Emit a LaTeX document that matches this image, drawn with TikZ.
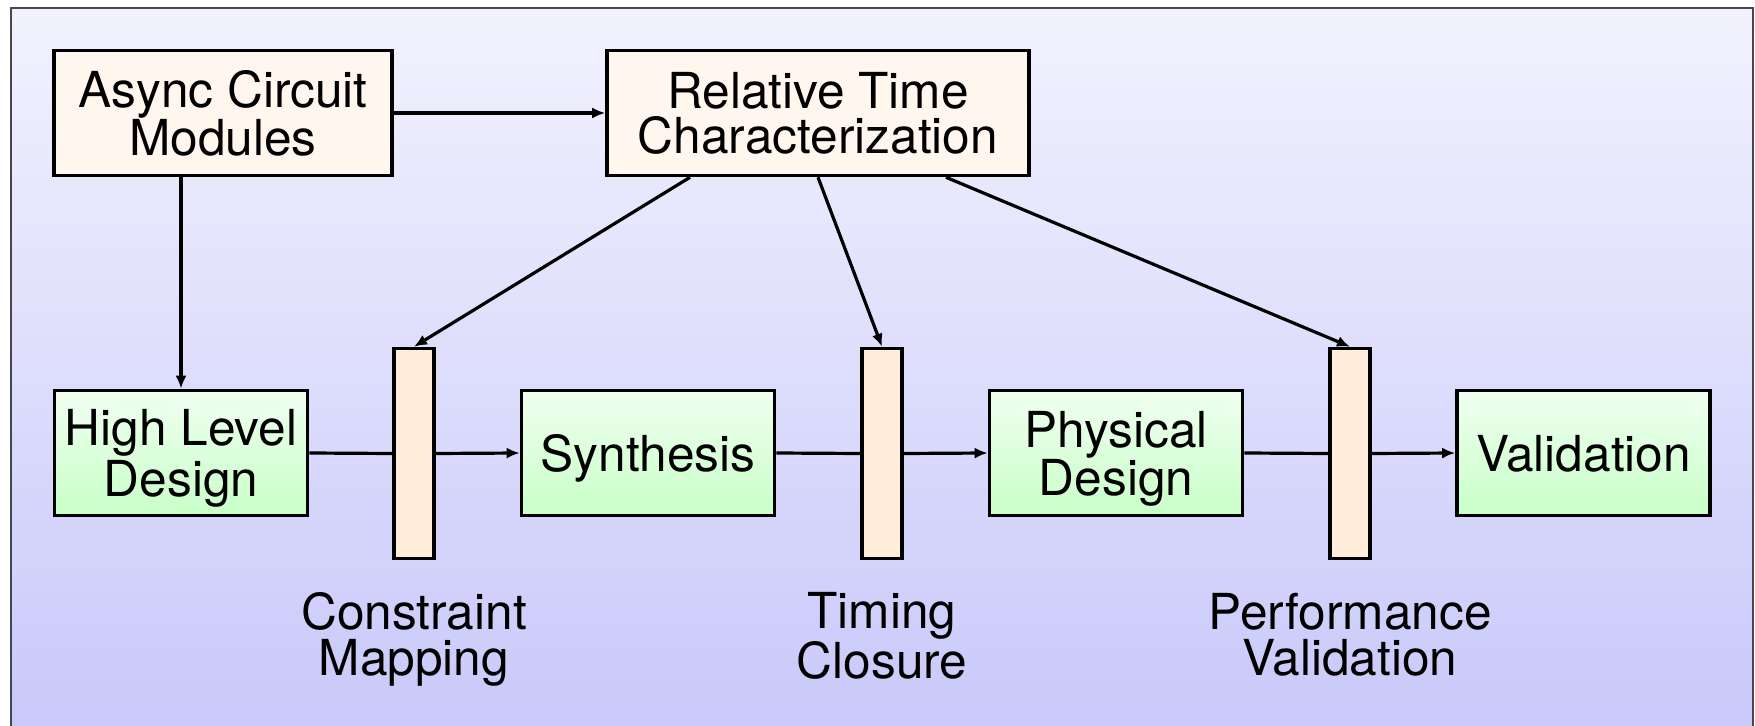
\documentclass[tikz,border=0pt]{standalone}
\usepackage{fontspec}
\setmainfont{TeX Gyre Heros}
\usetikzlibrary{arrows.meta,positioning}

\definecolor{panelTop}{RGB}{242,242,254}
\definecolor{panelBot}{RGB}{200,200,250}
\definecolor{panelEdge}{RGB}{70,70,80}
\definecolor{creamFill}{RGB}{255,246,238}
\definecolor{barFill}{RGB}{255,236,218}
\definecolor{greenTop}{RGB}{240,255,240}
\definecolor{greenBot}{RGB}{200,255,200}

\newcommand{\txt}[1]{\fontsize{24.8pt}{#1}\selectfont}

\tikzset{
  every node/.style={font=\txt{24pt}, align=center, text depth=0pt},
  srcbox/.style={draw=black, line width=1.8pt, fill=creamFill,
    minimum height=62.5pt, inner sep=0pt},
  stagebox/.style={draw=black, line width=1.8pt,
    top color=greenTop, bottom color=greenBot,
    minimum width=126.5pt, minimum height=62.5pt, inner sep=0pt},
  gatebar/.style={draw=black, line width=1.8pt, fill=barFill,
    minimum width=20pt, minimum height=105pt, inner sep=0pt},
  gatelabel/.style={inner sep=0pt, anchor=north, font=\txt{23pt}},
  flow/.style={line width=1.6pt, -{Latex[length=6.5pt,width=5.5pt]}},
  link/.style={line width=1.6pt},
}

\begin{document}
\begin{tikzpicture}[x=0.5pt, y=-0.5pt]
  \useasboundingbox (0,0) rectangle (1755,726);

  % panel behind the flow
  \fill[top color=panelTop, bottom color=panelBot] (11,8) rectangle (1753,740);
  \draw[panelEdge, line width=0.8pt] (11,740) -- (11,8) -- (1753,8) -- (1753,740);

  % characterization inputs
  \node[srcbox, minimum width=169pt] (async) at (223,113) {Async Circuit\\Modules};
  \node[srcbox, minimum width=211pt, font=\txt{22.5pt}] (rtc) at (818,113)
    {Relative Time\\Characterization};

  % design stages
  \node[stagebox, font=\txt{25.5pt}] (hld) at (181,453) {High Level\\Design};
  \node[stagebox] (syn)   at (648,453)    {Synthesis};
  \node[stagebox] (phys)  at (1116,453)   {Physical\\Design};
  \node[stagebox] (valid) at (1583.5,453) {Validation};

  % constraint gates between stages
  \node[gatebar] (gateA) at (414,453.5)  {};
  \node[gatebar] (gateB) at (882,453.5)  {};
  \node[gatebar] (gateC) at (1350,453.5) {};

  \node[gatelabel, below=16pt of gateA] (lblA) {Constraint\\Mapping};
  \node[gatelabel, below=16pt of gateB] (lblB) {Timing\\Closure};
  \node[gatelabel, below=16pt of gateC] (lblC) {Performance\\Validation};

  % top row connections
  \draw[flow] (async.east) -- (rtc.west);
  \draw[flow] (hld.north |- async.south) -- (hld.north);

  % main flow through the gates
  \draw[link] (hld.east)   -- (gateA.west);
  \draw[flow] (gateA.east) -- (syn.west);
  \draw[link] (syn.east)   -- (gateB.west);
  \draw[flow] (gateB.east) -- (phys.west);
  \draw[link] (phys.east)  -- (gateC.west);
  \draw[flow] (gateC.east) -- (valid.west);

  % timing information fed into each gate
  \draw[flow] ([xshift=-64pt]rtc.south) -- (gateA.north);
  \draw[flow] (rtc.south) -- (gateB.north);
  \draw[flow] ([xshift=64pt]rtc.south) -- (gateC.north);
\end{tikzpicture}
\end{document}
